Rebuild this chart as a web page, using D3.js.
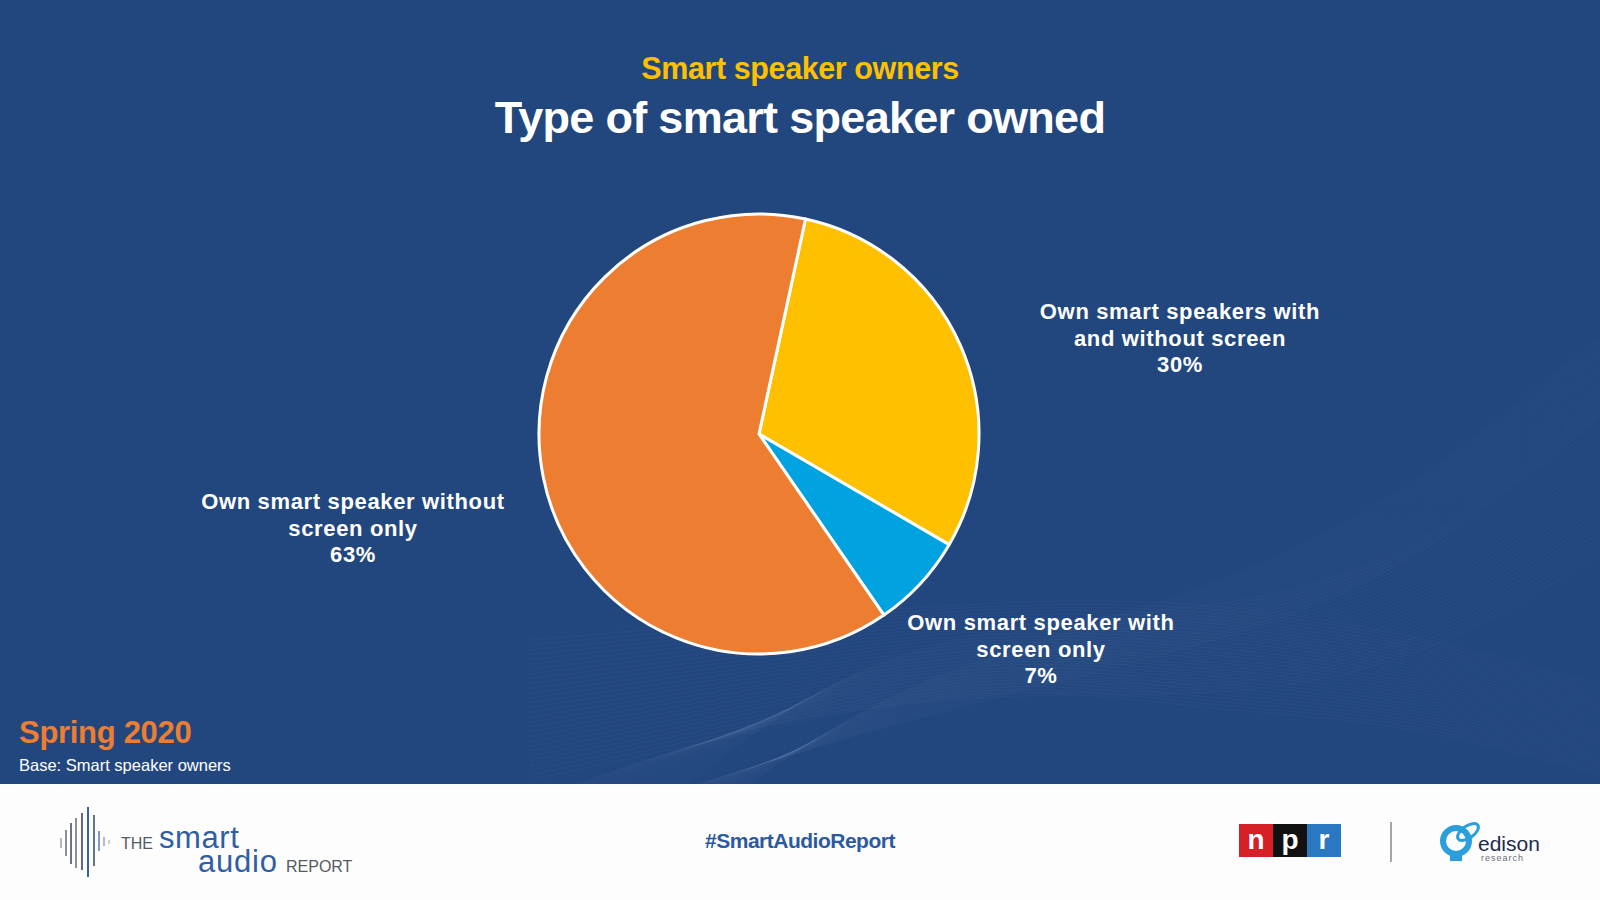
<!DOCTYPE html>
<html>
<head>
<meta charset="utf-8">
<script src="https://cdn.jsdelivr.net/npm/d3@7"></script>
<style>
  html, body { margin: 0; padding: 0; background: #22477e; }
  svg { display: block; }
  text { font-family: "Liberation Sans", Arial, sans-serif; }
</style>
</head>
<body>
<svg id="chart" width="1600" height="900"></svg>
<script>
// ---- Data ----
const categories = [
  "Own smart speakers with and without screen",
  "Own smart speaker with screen only",
  "Own smart speaker without screen only"
];
const values = [30, 7, 63];
const labelLines = [
  ["Own smart speakers with", "and without screen"],
  ["Own smart speaker with", "screen only"],
  ["Own smart speaker without", "screen only"]
];
const sliceColors = ["#FFC000", "#00A2E0", "#ED7D31"];
const subtitle = "Smart speaker owners";
const title = "Type of smart speaker owned";
const periodLabel = "Spring 2020";
const baseLabel = "Base: Smart speaker owners";
const hashtag = "#SmartAudioReport";

// ---- Layout ----
const W = 1600, H = 900;
const svg = d3.select("#chart");
const bg = "#22477e";

svg.append("rect").attr("width", W).attr("height", H).attr("fill", bg);

// decorative background waves (lower right)
const waves = svg.append("g").attr("fill", "none").attr("stroke", "#a9bde3");
const waveLine = d3.line().curve(d3.curveBasis);
for (let i = 0; i < 30; i++) {
  const t = i / 29;
  const pts = [
    [560 + t * 120, 790],
    [760 + t * 60, 720 - t * 40],
    [1000, 660 - t * 70 + 30],
    [1250, 700 - t * 90],
    [1450, 650 - t * 110],
    [1620, 540 - t * 160]
  ];
  waves.append("path").attr("d", waveLine(pts)).attr("stroke-opacity", 0.045).attr("stroke-width", 1);
}
for (let i = 0; i < 30; i++) {
  const t = i / 29;
  const pts = [
    [530, 640 + t * 140],
    [760, 620 + t * 110],
    [1000, 600 + t * 80],
    [1200, 600 + t * 110],
    [1400, 630 + t * 90],
    [1620, 690 + t * 90]
  ];
  waves.append("path").attr("d", waveLine(pts)).attr("stroke-opacity", 0.04).attr("stroke-width", 1);
}
for (let i = 0; i < 26; i++) {
  const t = i / 25;
  const pts = [
    [680 + t * 60, 790],
    [900, 720 - t * 40],
    [1150, 660 - t * 50],
    [1350, 600 - t * 70],
    [1500, 500 - t * 80],
    [1620, 400 - t * 80]
  ];
  waves.append("path").attr("d", waveLine(pts)).attr("stroke-opacity", 0.045).attr("stroke-width", 1);
}

// Titles
svg.append("text").attr("x", 800).attr("y", 79).attr("text-anchor", "middle")
  .attr("fill", "#FFC000").attr("font-weight", "bold").attr("font-size", 30.5)
  .attr("letter-spacing", -0.4).text(subtitle);
svg.append("text").attr("x", 800).attr("y", 133).attr("text-anchor", "middle")
  .attr("fill", "#ffffff").attr("font-weight", "bold").attr("font-size", 45)
  .attr("letter-spacing", -0.7).text(title);

// Pie
const cx = 759, cy = 434, R = 220;
const startA = 12.2 * Math.PI / 180;
const pie = d3.pie().sort(null).value(d => d).startAngle(startA).endAngle(startA + 2 * Math.PI);
const arc = d3.arc().innerRadius(0).outerRadius(R);
const arcs = pie(values);
const g = svg.append("g").attr("transform", `translate(${cx},${cy})`);
g.selectAll("path").data(arcs).join("path")
  .attr("d", arc)
  .attr("fill", (d, i) => sliceColors[i])
  .attr("stroke", "#ffffff")
  .attr("stroke-width", 3)
  .attr("stroke-linejoin", "round");

// Labels
const labelPos = [
  { x: 1180, y: 319 },
  { x: 1041, y: 630 },
  { x: 353, y: 509 }
];
const lineH = 26.5;
labelLines.forEach((lines, i) => {
  const t = svg.append("text").attr("text-anchor", "middle")
    .attr("fill", "#ffffff").attr("font-weight", "bold").attr("font-size", 22)
    .attr("letter-spacing", 0.65);
  const all = lines.concat([d3.format(".0f")(values[i]) + "%"]);
  all.forEach((s, k) => {
    t.append("tspan").attr("x", labelPos[i].x).attr("y", labelPos[i].y + k * lineH).text(s);
  });
});

// Period / base
svg.append("text").attr("x", 19).attr("y", 743).attr("fill", "#ED7D31")
  .attr("font-weight", "bold").attr("font-size", 31).attr("letter-spacing", -0.3).text(periodLabel);
svg.append("text").attr("x", 19).attr("y", 771).attr("fill", "#ffffff")
  .attr("font-size", 16.5).text(baseLabel);

// Footer
svg.append("rect").attr("x", 0).attr("y", 784).attr("width", W).attr("height", H - 784).attr("fill", "#fdfdfd");

// Smart audio report logo
const bars = [
  { x: 61, y1: 838, y2: 848, c: "#b5b9c0" },
  { x: 66, y1: 830, y2: 856, c: "#8c9099" },
  { x: 71, y1: 823, y2: 864, c: "#6d7480" },
  { x: 76, y1: 818, y2: 868, c: "#8c9099" },
  { x: 82, y1: 813, y2: 870, c: "#5f6b80" },
  { x: 88, y1: 807, y2: 877, c: "#3563a8" },
  { x: 94, y1: 815, y2: 866, c: "#6d7480" },
  { x: 99, y1: 831, y2: 851, c: "#7c9ccc" },
  { x: 104, y1: 837, y2: 846, c: "#b5b9c0" },
  { x: 109, y1: 840, y2: 844, c: "#c9ccd2" }
];
const logo = svg.append("g");
logo.selectAll("line").data(bars).join("line")
  .attr("x1", d => d.x).attr("x2", d => d.x).attr("y1", d => d.y1).attr("y2", d => d.y2)
  .attr("stroke", d => d.c).attr("stroke-width", 2);
logo.append("text").attr("x", 121).attr("y", 849).attr("fill", "#555a63").attr("font-size", 16)
  .attr("font-family", "Lato, sans-serif").text("THE");
logo.append("text").attr("x", 159).attr("y", 848).attr("fill", "#2f5ea6").attr("font-size", 31)
  .attr("letter-spacing", 0.6).attr("font-family", "Lato, sans-serif").text("smart");
logo.append("text").attr("x", 198).attr("y", 872).attr("fill", "#2f5ea6").attr("font-size", 31)
  .attr("letter-spacing", 0.8).attr("font-family", "Lato, sans-serif").text("audio");
logo.append("text").attr("x", 286).attr("y", 872).attr("fill", "#555a63").attr("font-size", 16)
  .attr("font-family", "Lato, sans-serif").text("REPORT");

// Hashtag
svg.append("text").attr("x", 800).attr("y", 848).attr("text-anchor", "middle")
  .attr("fill", "#2c5aa0").attr("font-weight", "bold").attr("font-size", 21)
  .attr("letter-spacing", -0.5).text(hashtag);

// NPR logo
const npr = [
  { x: 1239, c: "#d62027", s: "n" },
  { x: 1273, c: "#111111", s: "p" },
  { x: 1307, c: "#2a78c2", s: "r" }
];
const ng = svg.append("g");
ng.selectAll("rect").data(npr).join("rect")
  .attr("x", d => d.x).attr("y", 824).attr("width", 34).attr("height", 33).attr("fill", d => d.c);
ng.selectAll("text").data(npr).join("text")
  .attr("x", d => d.x + 17).attr("y", 849).attr("text-anchor", "middle")
  .attr("fill", "#ffffff").attr("font-weight", "bold").attr("font-size", 28).text(d => d.s);

// separator
svg.append("line").attr("x1", 1391).attr("x2", 1391).attr("y1", 822).attr("y2", 862)
  .attr("stroke", "#8a8a8a").attr("stroke-width", 1.5);

// Edison logo
const eg = svg.append("g");
eg.append("circle").attr("cx", 1456).attr("cy", 841).attr("r", 13)
  .attr("fill", "none").attr("stroke", "#2a9fdc").attr("stroke-width", 6);
eg.append("ellipse").attr("cx", 1468).attr("cy", 832).attr("rx", 12).attr("ry", 6)
  .attr("transform", "rotate(-35 1468 832)")
  .attr("fill", "none").attr("stroke", "#2a9fdc").attr("stroke-width", 3);
eg.append("rect").attr("x", 1450).attr("y", 856).attr("width", 12).attr("height", 5).attr("fill", "#2a9fdc");
eg.append("text").attr("x", 1478).attr("y", 851).attr("fill", "#1d2c4c").attr("font-size", 21)
  .attr("font-family", "Lato, sans-serif").text("edison");
eg.append("text").attr("x", 1481).attr("y", 861).attr("fill", "#6a6f78").attr("font-size", 9)
  .attr("letter-spacing", 1).attr("font-family", "Lato, sans-serif").text("research");
</script>
</body>
</html>
